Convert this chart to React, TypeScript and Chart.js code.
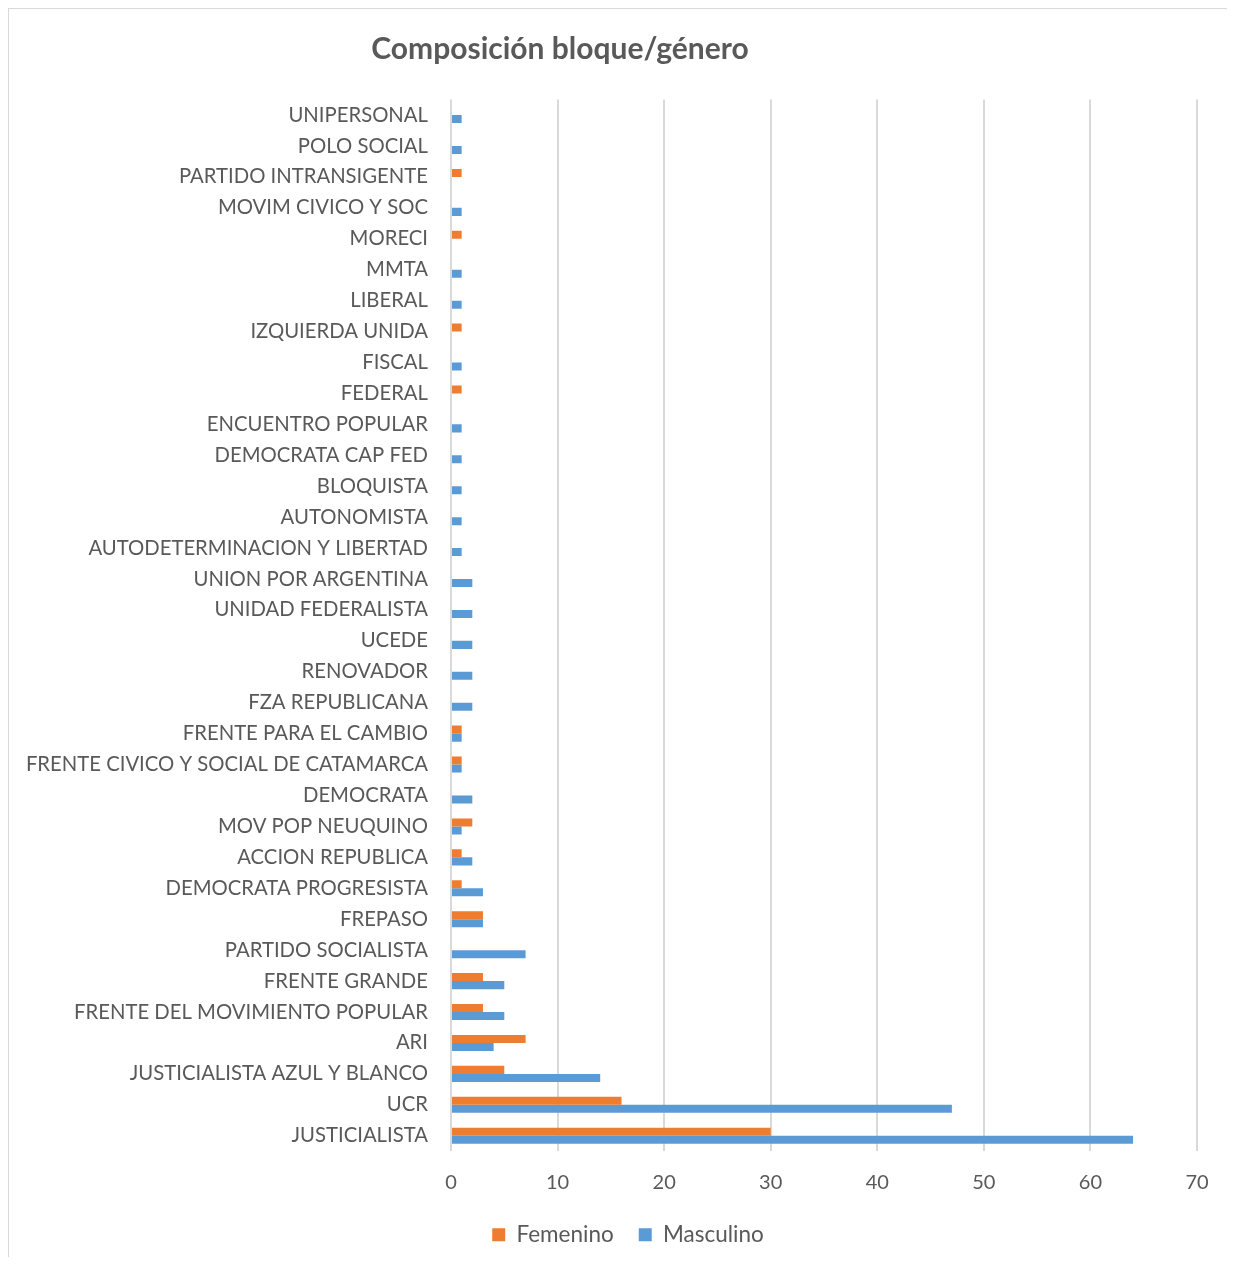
import React, { useEffect, useRef } from "react";
import { Chart, registerables } from "chart.js";

Chart.register(...registerables);

const categories = [
  "UNIPERSONAL",
  "POLO SOCIAL",
  "PARTIDO INTRANSIGENTE",
  "MOVIM CIVICO Y SOC",
  "MORECI",
  "MMTA",
  "LIBERAL",
  "IZQUIERDA UNIDA",
  "FISCAL",
  "FEDERAL",
  "ENCUENTRO POPULAR",
  "DEMOCRATA CAP FED",
  "BLOQUISTA",
  "AUTONOMISTA",
  "AUTODETERMINACION Y LIBERTAD",
  "UNION POR ARGENTINA",
  "UNIDAD FEDERALISTA",
  "UCEDE",
  "RENOVADOR",
  "FZA REPUBLICANA",
  "FRENTE PARA EL CAMBIO",
  "FRENTE CIVICO Y SOCIAL DE CATAMARCA",
  "DEMOCRATA",
  "MOV POP NEUQUINO",
  "ACCION REPUBLICA",
  "DEMOCRATA PROGRESISTA",
  "FREPASO",
  "PARTIDO SOCIALISTA",
  "FRENTE GRANDE",
  "FRENTE DEL MOVIMIENTO POPULAR",
  "ARI",
  "JUSTICIALISTA AZUL Y BLANCO",
  "UCR",
  "JUSTICIALISTA",
];

const femenino = [0, 0, 1, 0, 1, 0, 0, 1, 0, 1, 0, 0, 0, 0, 0, 0, 0, 0, 0, 0, 1, 1, 0, 2, 1, 1, 3, 0, 3, 3, 7, 5, 16, 30];
const masculino = [1, 1, 0, 1, 0, 1, 1, 0, 1, 0, 1, 1, 1, 1, 1, 2, 2, 2, 2, 2, 1, 1, 2, 1, 2, 3, 3, 7, 5, 5, 4, 14, 47, 64];

const seriesNames = ["Femenino", "Masculino"];
const xTicks = [0, 10, 20, 30, 40, 50, 60, 70];
const titleText = "Composición bloque/género";

const FONT = "Lato, 'Noto Sans', sans-serif";
const TEXT = "#595959";

export default function App() {
  const ref = useRef<HTMLCanvasElement>(null);

  useEffect(() => {
    document.body.style.overflow = "hidden";
    const canvas = ref.current;
    if (!canvas) return;

    const titlePlugin = {
      id: "customTitle",
      afterDraw(chart: any) {
        const ctx = chart.ctx;
        ctx.save();
        ctx.font = `bold 30px ${FONT}`;
        ctx.fillStyle = TEXT;
        ctx.textAlign = "center";
        ctx.textBaseline = "middle";
        ctx.fillText(titleText, 551, 40);
        ctx.restore();
      },
    };

    const legendShift = {
      id: "legendShift",
      afterLayout(chart: any) {
        const lg = chart.legend;
        if (lg) {
          lg.left += 25;
          lg.right += 25;
        }
      },
    };

    const chart = new Chart(canvas, {
      type: "bar",
      data: {
        labels: categories,
        datasets: [
          {
            label: seriesNames[0],
            data: femenino,
            backgroundColor: "#ED7D31",
            borderWidth: 0,
            categoryPercentage: 0.52,
            barPercentage: 1,
          },
          {
            label: seriesNames[1],
            data: masculino,
            backgroundColor: "#5B9BD5",
            borderWidth: 0,
            categoryPercentage: 0.52,
            barPercentage: 1,
          },
        ],
      },
      options: {
        indexAxis: "y",
        responsive: false,
        animation: false,
        devicePixelRatio: 1,
        layout: { padding: { top: 90.6, right: 38, left: 0, bottom: 0 } },
        font: { family: FONT },
        scales: {
          x: {
            min: 0,
            max: 70,
            afterBuildTicks(scale: any) {
              scale.ticks = xTicks.map((v) => ({ value: v }));
            },
            afterFit(scale: any) {
              scale.height = 47.3;
            },
            grid: { color: "#D9D9D9", lineWidth: 2, drawTicks: false },
            border: { display: false },
            ticks: { color: TEXT, font: { family: FONT, size: 20 }, padding: 19, maxRotation: 0 },
          },
          y: {
            afterFit(scale: any) {
              scale.width = 442;
            },
            grid: { display: false, drawTicks: false },
            border: { display: false },
            ticks: { color: TEXT, font: { family: FONT, size: 20.3 }, padding: 23, autoSkip: false },
          },
        },
        plugins: {
          title: { display: false },
          tooltip: { enabled: false },
          legend: {
            position: "bottom",
            labels: {
              color: TEXT,
              font: { family: FONT, size: 22.5 },
              boxWidth: 13,
              boxHeight: 13,
              padding: 25,
            },
          },
        },
      },
      plugins: [titlePlugin, legendShift],
    } as any);

    return () => chart.destroy();
  }, []);

  return (
    <div
      style={{
        marginTop: -1,
        marginLeft: -1,
        width: 1230,
        height: 1248,
        borderTop: "2px solid #D9D9D9",
        borderLeft: "2px solid #D9D9D9",
        overflow: "hidden",
        background: "#fff",
      }}
    >
      <canvas ref={ref} width={1226} height={1247} style={{ display: "block", width: 1226, height: 1247 }} />
    </div>
  );
}
